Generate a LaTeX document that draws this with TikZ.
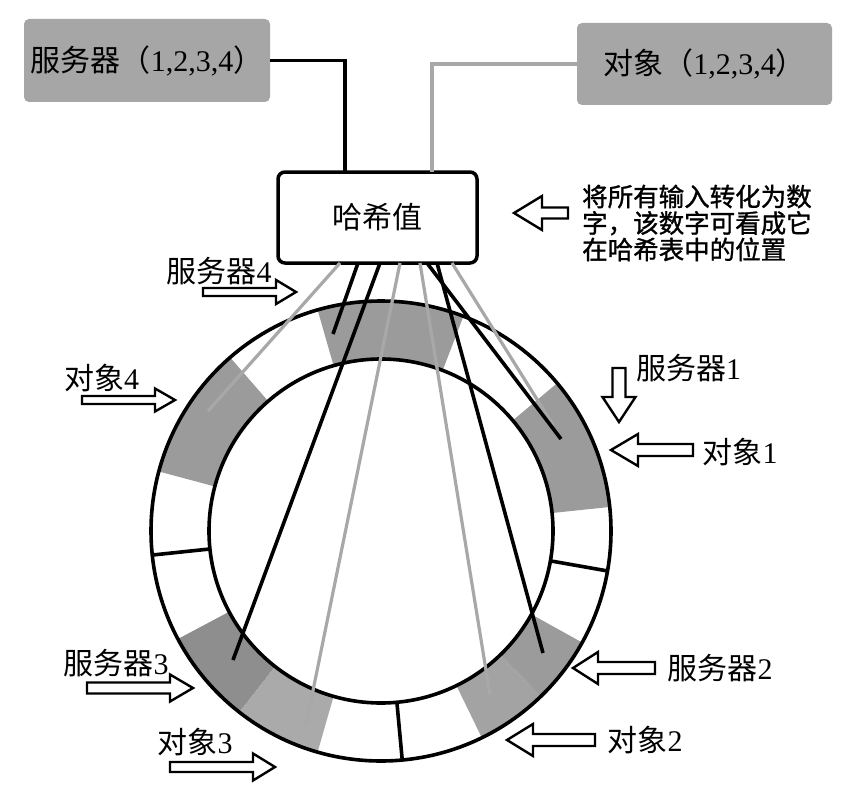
\documentclass[tikz,border=0pt]{standalone}
\usepackage{fontspec}
\setmainfont{Liberation Serif}
\newfontfamily\cjk{Noto Sans CJK SC}
\newfontfamily\cjkb[FakeBold=1.2]{Noto Sans CJK SC}
\usetikzlibrary{calc}
\definecolor{boxgray}{RGB}{166,166,166}
\definecolor{secgray}{RGB}{155,155,155}
\definecolor{secdark}{RGB}{142,142,142}
\definecolor{seclight}{RGB}{170,170,170}
\definecolor{secmid}{RGB}{163,163,163}
\definecolor{linegray}{RGB}{168,168,168}
\newcommand{\ringseg}[3]{\fill[#3] ($(C)+(#1:230pt)$) arc[start angle=#1, end angle=#2, radius=230pt] -- ($(C)+(#2:172pt)$) arc[start angle=#2, end angle=#1, radius=172pt] -- cycle;}
\newcommand{\hollowarr}[7]{\draw[arrowline, shift={(#1,#2)}, rotate=#3] (0,-#7) -- ({#4-#5},-#7) -- ({#4-#5},-#6) -- (#4,0) -- ({#4-#5},#6) -- ({#4-#5},#7) -- (0,#7) -- cycle;}
\tikzset{
  graybox/.style={fill=boxgray, rounded corners=5pt, inner sep=0pt, font=\fontsize{30}{36}\selectfont},
  hashbox/.style={draw, line width=3.5pt, rounded corners=7pt, fill=white, outer sep=0pt, inner sep=0pt, font=\cjk\fontsize{30}{36}\selectfont},
  lbl/.style={inner sep=0pt, font=\fontsize{30}{36}\selectfont, text height=26pt, text depth=4pt},
  ringline/.style={line width=3.6pt, black},
  srvline/.style={line width=3.6pt, black},
  objline/.style={line width=3.2pt, linegray},
  arrowline/.style={line width=2.4pt, black, fill=white, line join=miter},
}
\begin{document}
\begin{tikzpicture}[x=1pt,y=1pt]
\useasboundingbox (0,0) rectangle (846,-797);
\fill[white] (0,0) rectangle (846,-797);

% top boxes
\node[graybox, minimum width=246pt, minimum height=83pt] (b1) at (147,-60.5) {{\cjk 服务器（}1,2,3,4{\cjk ）}};
\node[graybox, minimum width=255pt, minimum height=82pt] (b2) at (704.5,-64) {{\cjk 对象（}1,2,3,4{\cjk ）}};
\node[hashbox, minimum width=199pt, minimum height=91pt] (hash) at (377.5,-217.5) {哈希值};

\draw[srvline] (b1.east) -| ([xshift=-32.5pt]hash.north);
\draw[objline] (b2.west) -| ([xshift=54.5pt]hash.north);

% explanation
\node[anchor=west, align=left, inner sep=0pt, font=\cjkb\fontsize{25.5}{26.5}\selectfont] (expl) at (582,-223) {将所有输入转化为数\\字，该数字可看成它\\在哈希表中的位置};
\hollowarr{568}{-213}{180}{54}{28}{17}{5.5}

% ring
\coordinate (C) at (381,-531);
\ringseg{69}{106}{secgray}
\ringseg{131}{165}{secgray}
\ringseg{208}{232}{secdark}
\ringseg{232}{254}{seclight}
\ringseg{296}{314}{secmid}
\ringseg{314}{331}{secgray}
\ringseg{6}{40}{secgray}
\draw[ringline] (C) circle[radius=230pt];
\draw[ringline] (C) circle[radius=172pt];
\draw[ringline] ($(C)+(186:172pt)$) -- ($(C)+(186:230pt)$);
\draw[ringline] ($(C)+(275.3:172pt)$) -- ($(C)+(275.3:230pt)$);
\draw[ringline] ($(C)+(350:172pt)$) -- ($(C)+(350:230pt)$);

% connector start points on the hash box
\coordinate (h1) at ([xshift=-37.5pt]hash.south);
\coordinate (h2) at ([xshift=-19.5pt]hash.south);
\coordinate (h3) at ([xshift=2.5pt]hash.south);
\coordinate (h4) at ([xshift=22.5pt]hash.south);
\coordinate (h5) at ([xshift=42.5pt]hash.south);
\coordinate (h6) at ([xshift=49.5pt]hash.south);
\coordinate (h7) at ([xshift=59.5pt]hash.south);
\coordinate (h8) at ([xshift=74.5pt]hash.south);
% end points in the ring
\coordinate (o4) at (208,-411);
\coordinate (s4) at (333,-334);
\coordinate (s3) at (233,-660);
\coordinate (o3) at (306,-725);
\coordinate (o2) at (490,-695);
\coordinate (s1) at (561,-439);
\coordinate (s2) at (543,-653);
\coordinate (o1) at (553,-425);

\draw[objline] (h1) -- (o4);
\draw[objline] (h4) -- (o3);
\draw[objline] (h5) -- (o2);
\draw[objline] (h8) -- (o1);
\draw[srvline] (h2) -- (s4);
\draw[srvline] (h3) -- (s3);
\draw[srvline] (h6) -- (s1);
\draw[srvline] (h7) -- (s2);

% labels and hollow arrows
\node[lbl] (l4s) at (219,-271) {{\cjk 服务器}4};
\hollowarr{203}{-292}{0}{93}{20}{12}{4}
\node[lbl] (l4o) at (101.5,-378) {{\cjk 对象}4};
\hollowarr{82}{-400}{0}{93}{20}{11.5}{4}
\node[lbl] (l3s) at (116,-663) {{\cjk 服务器}3};
\hollowarr{87}{-688}{0}{106}{23}{13.5}{5.5}
\node[lbl] (l3o) at (195,-742) {{\cjk 对象}3};
\hollowarr{170}{-767}{0}{105}{22}{13.5}{5}
\node[lbl] (l1s) at (688.5,-368) {{\cjk 服务器}1};
\hollowarr{619}{-368}{-90}{54}{25}{16.5}{6.5}
\node[lbl] (l1o) at (740,-452) {{\cjk 对象}1};
\hollowarr{693}{-450}{180}{82}{27}{16}{6}
\node[lbl] (l2s) at (720,-668) {{\cjk 服务器}2};
\hollowarr{655}{-668}{180}{82}{25}{16}{6}
\node[lbl] (l2o) at (645,-740) {{\cjk 对象}2};
\hollowarr{595}{-740}{180}{88}{26}{16}{6}
\end{tikzpicture}
\end{document}
